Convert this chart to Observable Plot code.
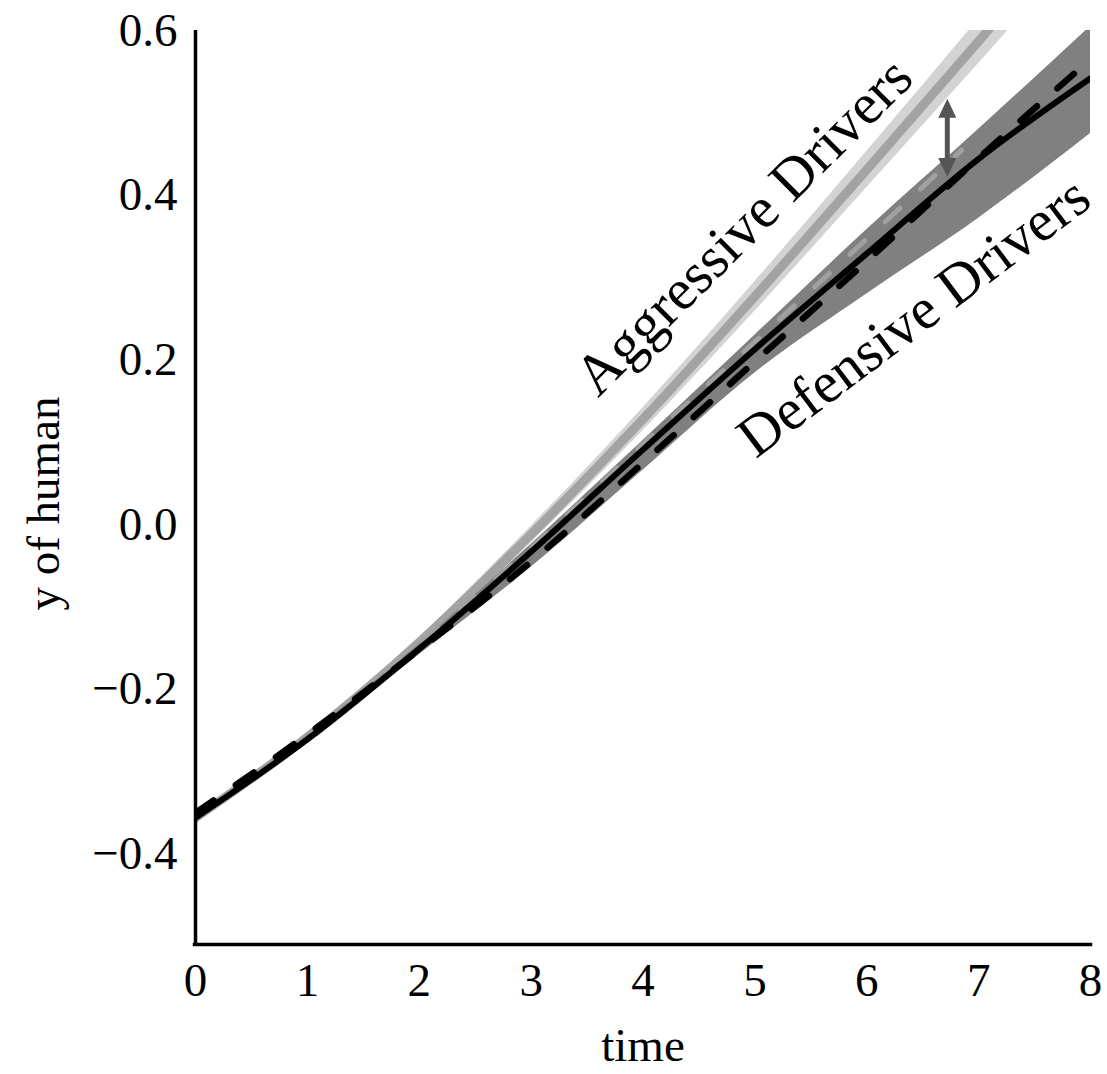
<!DOCTYPE html>
<html><head><meta charset="utf-8">
<script src="https://cdn.jsdelivr.net/npm/d3@7"></script>
<script src="https://cdn.jsdelivr.net/npm/@observablehq/plot@0.6"></script>
<style>body{margin:0;background:#fff}</style>
</head><body><div id="chart"></div>
<script>
// ---- data ----
const time = [0, 1, 2, 3, 4, 5, 6, 7, 8];
const defensiveSolid  = [-0.356, -0.261, -0.151, -0.033, 0.091, 0.213, 0.329, 0.444, 0.542];
const defensiveDashed = [-0.350, -0.255, -0.152, -0.045, 0.075, 0.198, 0.320, 0.445, 0.565];
const defensiveUpper  = [-0.354, -0.256, -0.145, -0.024, 0.102, 0.230, 0.358, 0.480, 0.605];
const defensiveLower  = [-0.358, -0.264, -0.158, -0.052, 0.066, 0.184, 0.280, 0.372, 0.475];
const aggressiveMean  = [-0.356, -0.258, -0.143, -0.012, 0.128, 0.277, 0.431, 0.587, 0.745];
const aggressiveUpper = [-0.355, -0.255, -0.137, -0.002, 0.142, 0.295, 0.453, 0.614, 0.777];
const aggressiveLower = [-0.357, -0.261, -0.149, -0.022, 0.114, 0.259, 0.409, 0.560, 0.713];
const grayTime   = [0, 1, 2, 3, 4, 5, 6, 6.5, 6.85];
const grayDashed = [-0.355, -0.258, -0.147, -0.028, 0.098, 0.222, 0.347, 0.410, 0.455];
const arrowT = [6.72];
const arrowLow = [0.422];
const arrowHigh = [0.517];
const labelText = ["Aggressive Drivers", "Defensive Drivers"];
const labelT = [4.9, 6.42];
const labelY = [0.362, 0.252];
const labelAngle = [-45, -37];
const xTicks = [0, 1, 2, 3, 4, 5, 6, 7, 8];
const yTicks = [-0.4, -0.2, 0.0, 0.2, 0.4, 0.6];
const xLabel = "time";
const yLabel = "y of human";

// ---- tables ----
const main = time.map((t, i) => ({
  t, solid: defensiveSolid[i], dashed: defensiveDashed[i],
  dUp: defensiveUpper[i], dLo: defensiveLower[i],
  aMean: aggressiveMean[i], aUp: aggressiveUpper[i], aLo: aggressiveLower[i]
}));
const gray = grayTime.map((t, i) => ({t, y: grayDashed[i]}));
const arrow = arrowT.map((t, i) => ({t, lo: arrowLow[i], hi: arrowHigh[i]}));
const labels = labelText.map((s, i) => ({s, t: labelT[i], y: labelY[i], a: labelAngle[i]}));

// filled arrow heads with the tip at the anchor point
const upHead = {draw(ctx) { ctx.moveTo(0, 0); ctx.lineTo(-9, 19); ctx.lineTo(9, 19); ctx.closePath(); }};
const downHead = {draw(ctx) { ctx.moveTo(0, 0); ctx.lineTo(-9, -19); ctx.lineTo(9, -19); ctx.closePath(); }};

const yMin = -0.51, yMax = 0.6;
const curve = "monotone-x";

const chart = Plot.plot({
  width: 1107, height: 1074,
  marginLeft: 195, marginRight: 17, marginTop: 30, marginBottom: 130,
  x: {domain: [0, 8]},
  y: {domain: [yMin, yMax]},
  style: {fontFamily: "'Liberation Serif', 'Times New Roman', serif", fontSize: "47px", background: "white", color: "black"},
  marks: [
    Plot.areaY(main, {x: "t", y1: "aLo", y2: "aUp", fill: "#d3d3d3", curve, clip: true}),
    Plot.line(main, {x: "t", y: "aMean", stroke: "#a3a3a3", strokeWidth: 9, curve, clip: true}),
    Plot.areaY(main, {x: "t", y1: "dLo", y2: "dUp", fill: "#808080", curve, clip: true}),
    Plot.line(gray, {x: "t", y: "y", stroke: "#a0a0a0", strokeWidth: 5, strokeDasharray: "20,28", curve, clip: true}),
    Plot.line(main, {x: "t", y: "solid", stroke: "black", strokeWidth: 6, curve, clip: true}),
    Plot.line(main, {x: "t", y: "dashed", stroke: "black", strokeWidth: 6.5, strokeDasharray: "22,27", curve, clip: true}),
    Plot.ruleX(arrow, {x: "t", y1: "hi", y2: "lo", stroke: "#555", strokeWidth: 5, insetTop: 12, insetBottom: 12}),
    Plot.dot(arrow, {x: "t", y: "hi", symbol: upHead, fill: "#555", stroke: "none"}),
    Plot.dot(arrow, {x: "t", y: "lo", symbol: downHead, fill: "#555", stroke: "none"}),
    Plot.text(labels, {x: "t", y: "y", text: "s", rotate: "a", fontSize: 58, textAnchor: "middle", lineAnchor: "middle", fill: "black"}),
    Plot.ruleX([0], {y1: yMin, y2: yMax, stroke: "black", strokeWidth: 3.5}),
    Plot.ruleY([yMin], {x1: -0.02, x2: 8.02, stroke: "black", strokeWidth: 3.5}),
    Plot.axisX({ticks: xTicks, tickSize: 0, tickPadding: 18, label: null, fontSize: 47}),
    Plot.axisY({ticks: yTicks, tickSize: 0, tickPadding: 18, label: null, fontSize: 47, tickFormat: d3.format(".1f")}),
    Plot.text([xLabel], {frameAnchor: "bottom", dy: 101, textAnchor: "middle", lineAnchor: "middle", fontSize: 47}),
    Plot.text([yLabel], {frameAnchor: "left", dx: -152, dy: 16, rotate: -90, textAnchor: "middle", lineAnchor: "middle", fontSize: 47})
  ]
});
document.getElementById("chart").appendChild(chart);
</script>
</body></html>
